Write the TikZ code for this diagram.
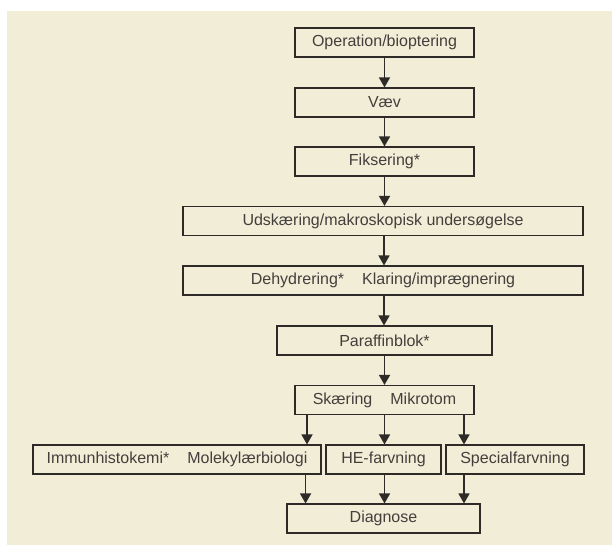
\documentclass[tikz,border=0pt]{standalone}
\usepackage{fontspec}
\setmainfont{Liberation Sans}
\usetikzlibrary{arrows.meta}
\definecolor{panel}{RGB}{242,237,214}
\definecolor{ink}{RGB}{45,42,40}
\newcommand{\stepgap}{\hspace{18pt}}

\begin{document}
\begin{tikzpicture}[x=1pt,y=-1pt]
\tikzstyle{every node}+=[inner sep=0pt]
\tikzstyle{stepbox}=[draw=ink, line width=1.1pt, minimum height=29pt, text=ink!90, font=\fontsize{16}{19}\selectfont]
\tikzstyle{flow}=[draw=ink, line width=1.5pt, -{Triangle[width=11pt,length=10pt]}]
\useasboundingbox (0,0) rectangle (612,545);
\fill [panel] (7,11) rectangle (612,545);
% main column
\node [stepbox, minimum width=179pt] (op) at (384.5,42.5) {Operation/bioptering};
\node [stepbox, minimum width=179pt] (vaev) at (384.5,102.5) {Væv};
\node [stepbox, minimum width=179pt] (fiks) at (384.5,161.5) {Fiksering*};
\node [stepbox, minimum width=400pt] (udsk) at (383,221) {Udskæring/makroskopisk undersøgelse};
\node [stepbox, minimum width=400pt] (dehyd) at (383,280.5) {Dehydrering*\stepgap Klaring/imprægnering};
\node [stepbox, minimum width=215pt] (paraf) at (384.5,340.5) {Paraffinblok*};
\node [stepbox, minimum width=179pt] (skaer) at (384.5,400) {Skæring\stepgap Mikrotom};
% branches
\node [stepbox, minimum width=288pt] (immun) at (177,459.5) {Immunhistokemi*\stepgap Molekylærbiologi};
\node [stepbox, minimum width=115pt] (he) at (383.5,459.5) {HE-farvning};
\node [stepbox, minimum width=138pt] (spec) at (515,459.5) {Specialfarvning};
\node [stepbox, minimum width=193pt] (diag) at (383.5,518.5) {Diagnose};
% arrows
\draw [flow] (op.south) -- (op.south |- vaev.north);
\draw [flow] (vaev.south) -- (vaev.south |- fiks.north);
\draw [flow] (fiks.south) -- (fiks.south |- udsk.north);
\draw [flow] ([xshift=1pt]udsk.south) -- ([xshift=1pt]udsk.south |- dehyd.north);
\draw [flow] ([xshift=1pt]dehyd.south) -- ([xshift=1pt]dehyd.south |- paraf.north);
\draw [flow] (paraf.south) -- (paraf.south |- skaer.north);
\draw [flow] ([xshift=-77.5pt]skaer.south) -- ([xshift=-77.5pt]skaer.south |- immun.north);
\draw [flow] (skaer.south) -- (skaer.south |- he.north);
\draw [flow] ([xshift=79.5pt]skaer.south) -- ([xshift=79.5pt]skaer.south |- spec.north);
\draw [flow] ([xshift=-16pt]immun.south east) -- ([xshift=-16pt]immun.south east |- diag.north);
\draw [flow] ([xshift=1pt]he.south) -- ([xshift=1pt]he.south |- diag.north);
\draw [flow] ([xshift=-51pt]spec.south) -- ([xshift=-51pt]spec.south |- diag.north);
\end{tikzpicture}
\end{document}
